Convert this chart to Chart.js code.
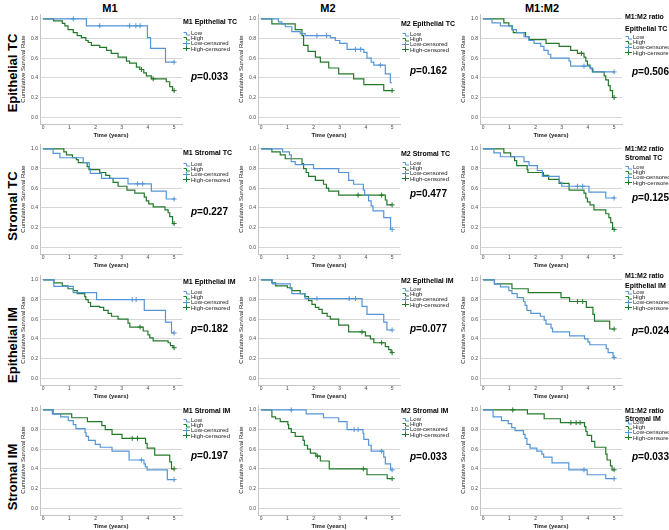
<!DOCTYPE html>
<html><head><meta charset="utf-8">
<script src="https://cdn.jsdelivr.net/npm/chart.js@4.4.1/dist/chart.umd.min.js"></script>
<style>
body{margin:0;width:669px;height:530px;background:#fff;position:relative;overflow:hidden;font-family:'Liberation Sans',Arial,sans-serif;}
canvas{position:absolute;}
.t{position:absolute;white-space:nowrap;color:#000;line-height:1;}
.ttl{font-size:7px;font-weight:bold;transform:translateY(-50%);}
.pv{font-size:10px;font-weight:bold;transform:translateY(-50%);}
.col{font-size:11px;font-weight:bold;transform:translate(-50%,-50%);}
.row{font-size:13px;font-weight:bold;transform:translate(-50%,-50%) rotate(-90deg);}
.lg{font-size:6px;color:#222;transform:translateY(-50%);display:flex;align-items:center;}
.lg svg{margin-right:1px;}
</style></head><body>
<script>
// ---------------- DATA ----------------
const colNames = ['M1', 'M2', 'M1:M2'];
const rowNames = ['Epithelial TC', 'Stromal TC', 'Epithelial IM', 'Stromal IM'];
const legendLabels = ['Low', 'High', 'Low-censored', 'High-censored'];
const xTicks = [0, 1, 2, 3, 4, 5];
const yTicks = [0, 0.2, 0.4, 0.6, 0.8, 1.0];
const pValues = [
  ['0.033', '0.162', '0.506'],
  ['0.227', '0.477', '0.125'],
  ['0.182', '0.077', '0.024'],
  ['0.197', '0.033', '0.033']
];

// Row 1: Epithelial TC
const epiTC_M1_low = [[0,1],[1.65,0.93],[3.98,0.81],[4.1,0.70],[4.67,0.56],[5,0.56]];
const epiTC_M1_lowCens = [[1.15,1],[2.16,0.93],[3.3,0.93],[3.54,0.93],[3.7,0.93],[5,0.56]];
const epiTC_M1_high = [[0,1],[0.4,0.98],[0.73,0.955],[0.83,0.93],[0.95,0.89],[1.15,0.86],[1.3,0.83],[1.46,0.81],[1.63,0.78],[1.72,0.76],[1.84,0.73],[2.16,0.71],[2.42,0.68],[2.6,0.65],[2.86,0.61],[3.18,0.57],[3.3,0.55],[3.56,0.51],[3.69,0.485],[3.84,0.45],[3.94,0.42],[4.13,0.39],[4.7,0.36],[4.83,0.31],[4.94,0.27],[5,0.27]];
const epiTC_M1_highCens = [[3.75,0.485],[4.2,0.39],[5,0.27]];

const epiTC_M2_low = [[0,1],[0.66,0.97],[0.79,0.95],[0.92,0.92],[1.17,0.87],[1.49,0.85],[1.68,0.83],[2.64,0.81],[2.83,0.78],[3.0,0.75],[3.28,0.69],[3.92,0.66],[4.04,0.60],[4.2,0.56],[4.3,0.53],[4.74,0.44],[4.93,0.35],[5,0.35]];
const epiTC_M2_lowCens = [[2.13,0.83],[2.5,0.83],[3.6,0.69],[3.8,0.69],[4.55,0.53]];
const epiTC_M2_high = [[0,1],[0.41,0.95],[1.3,0.89],[1.56,0.83],[1.62,0.73],[1.79,0.67],[2.07,0.61],[2.26,0.56],[2.58,0.50],[2.96,0.44],[3.53,0.39],[3.92,0.33],[4.68,0.27],[5,0.27]];
const epiTC_M2_highCens = [[5,0.27]];

const epiTC_R_low = [[0,1],[0.34,0.96],[0.66,0.93],[1.1,0.89],[1.27,0.86],[1.56,0.82],[1.75,0.78],[1.94,0.75],[2.2,0.72],[2.32,0.68],[2.48,0.64],[2.58,0.60],[3.28,0.57],[3.34,0.52],[4.1,0.49],[4.2,0.46],[5,0.46]];
const epiTC_R_lowCens = [[3.85,0.52],[5,0.46]];
const epiTC_R_high = [[0,1],[0.79,0.96],[0.98,0.93],[1.11,0.89],[1.15,0.86],[1.62,0.82],[1.75,0.79],[2.4,0.75],[2.9,0.72],[3.34,0.68],[3.6,0.65],[3.85,0.61],[3.92,0.57],[3.98,0.53],[4.08,0.50],[4.17,0.46],[4.62,0.42],[4.68,0.38],[4.78,0.32],[4.85,0.27],[4.94,0.20],[5,0.20]];
const epiTC_R_highCens = [[3.75,0.65],[5,0.20]];

// Row 2: Stromal TC
const strTC_M1_low = [[0,1],[0.38,0.955],[0.64,0.91],[1.53,0.86],[1.76,0.80],[1.8,0.75],[2.23,0.70],[3.24,0.645],[4.13,0.57],[4.7,0.49],[5,0.49]];
const strTC_M1_lowCens = [[3.6,0.645],[3.8,0.645],[5,0.49]];
const strTC_M1_high = [[0,1],[0.79,0.97],[0.89,0.94],[1.12,0.91],[1.27,0.89],[1.34,0.86],[1.68,0.82],[1.75,0.79],[2.16,0.76],[2.39,0.73],[2.54,0.70],[2.67,0.66],[2.86,0.62],[3.2,0.58],[3.5,0.55],[3.86,0.51],[3.94,0.47],[4.03,0.44],[4.2,0.41],[4.65,0.38],[4.77,0.35],[4.83,0.31],[4.94,0.24],[5,0.24]];
const strTC_M1_highCens = [[5,0.24]];

const strTC_M2_low = [[0,1],[0.82,0.97],[1.08,0.94],[1.15,0.87],[1.3,0.84],[2.0,0.80],[2.96,0.76],[3.34,0.68],[3.53,0.64],[3.9,0.58],[3.95,0.53],[4.1,0.47],[4.2,0.42],[4.27,0.37],[4.68,0.30],[4.94,0.18],[5,0.18]];
const strTC_M2_lowCens = [[5,0.18]];
const strTC_M2_high = [[0,1],[0.41,0.97],[0.73,0.94],[0.92,0.90],[1.56,0.85],[1.62,0.80],[1.72,0.76],[1.81,0.72],[2.07,0.68],[2.38,0.64],[2.49,0.60],[2.58,0.57],[2.96,0.53],[4.74,0.48],[4.8,0.43],[5,0.43]];
const strTC_M2_highCens = [[3.7,0.53],[4.6,0.53],[5,0.43]];

const strTC_R_low = [[0,1],[0.41,0.96],[0.66,0.92],[1.56,0.87],[1.75,0.83],[2.07,0.78],[2.26,0.72],[2.9,0.66],[3.0,0.62],[4.04,0.56],[4.68,0.50],[5,0.50]];
const strTC_R_lowCens = [[3.6,0.62],[3.8,0.62],[5,0.50]];
const strTC_R_high = [[0,1],[0.79,0.96],[1.05,0.92],[1.2,0.88],[1.28,0.83],[1.68,0.79],[1.71,0.76],[2.3,0.73],[2.5,0.69],[2.9,0.65],[3.28,0.58],[3.85,0.55],[3.92,0.50],[3.98,0.46],[4.08,0.43],[4.23,0.38],[4.68,0.34],[4.8,0.30],[4.87,0.25],[4.94,0.18],[5,0.18]];
const strTC_R_highCens = [[5,0.18]];

// Row 3: Epithelial IM
const epiIM_M1_low = [[0,1],[0.41,0.935],[1.15,0.87],[2.04,0.80],[3.86,0.69],[4.67,0.57],[4.9,0.46],[5,0.46]];
const epiIM_M1_lowCens = [[3.4,0.80],[3.55,0.80],[5,0.46]];
const epiIM_M1_high = [[0,1],[0.41,0.97],[0.73,0.94],[0.95,0.91],[1.15,0.89],[1.3,0.86],[1.59,0.83],[1.63,0.80],[1.72,0.77],[1.81,0.73],[2.16,0.72],[2.31,0.69],[2.48,0.66],[2.61,0.63],[2.86,0.60],[3.24,0.56],[3.31,0.52],[3.82,0.48],[4.0,0.44],[4.07,0.41],[4.2,0.38],[4.77,0.36],[4.86,0.33],[4.96,0.31],[5,0.31]];
const epiIM_M1_highCens = [[3.7,0.52],[5,0.31]];

const epiIM_M2_low = [[0,1],[0.43,0.96],[1.11,0.91],[1.17,0.86],[1.68,0.81],[3.85,0.73],[4.04,0.65],[4.68,0.57],[4.8,0.49],[5,0.49]];
const epiIM_M2_lowCens = [[2.13,0.81],[3.36,0.81],[3.6,0.81],[5,0.49]];
const epiIM_M2_high = [[0,1],[0.41,0.97],[0.55,0.94],[1.0,0.92],[1.17,0.89],[1.49,0.86],[1.66,0.83],[1.81,0.79],[1.94,0.75],[2.07,0.72],[2.2,0.70],[2.33,0.66],[2.52,0.63],[2.64,0.60],[2.96,0.54],[3.34,0.47],[3.98,0.43],[4.17,0.40],[4.3,0.36],[4.74,0.32],[4.87,0.29],[4.96,0.26],[5,0.26]];
const epiIM_M2_highCens = [[3.85,0.47],[4.6,0.36],[5,0.26]];

const epiIM_R_low = [[0,1],[0.43,0.96],[0.66,0.93],[0.98,0.89],[1.1,0.86],[1.3,0.82],[1.54,0.78],[1.6,0.74],[1.67,0.69],[1.82,0.66],[2.18,0.63],[2.33,0.59],[2.4,0.55],[2.59,0.51],[2.65,0.47],[3.3,0.43],[3.87,0.40],[4.0,0.37],[4.07,0.34],[4.7,0.30],[4.77,0.26],[4.96,0.21],[5,0.21]];
const epiIM_R_lowCens = [[5,0.21]];
const epiIM_R_high = [[0,1],[0.43,0.96],[1.1,0.91],[1.72,0.87],[2.97,0.82],[3.3,0.78],[3.94,0.72],[4.19,0.65],[4.25,0.58],[4.83,0.50],[5,0.50]];
const epiIM_R_highCens = [[3.6,0.78],[3.8,0.78],[5,0.50]];

// Row 4: Stromal IM
const strIM_M1_low = [[0,1],[0.35,0.96],[0.67,0.93],[0.96,0.89],[1.15,0.85],[1.25,0.81],[1.6,0.77],[1.64,0.73],[1.73,0.69],[1.99,0.65],[2.18,0.62],[2.63,0.58],[3.28,0.49],[3.85,0.45],[3.9,0.42],[3.97,0.39],[4.74,0.29],[5,0.29]];
const strIM_M1_lowCens = [[3.75,0.49],[5,0.29]];
const strIM_M1_high = [[0,1],[0.38,0.96],[1.09,0.92],[1.69,0.88],[2.24,0.84],[2.37,0.80],[2.63,0.75],[3.01,0.71],[3.91,0.66],[3.97,0.61],[4.26,0.54],[4.83,0.47],[4.9,0.40],[5,0.40]];
const strIM_M1_highCens = [[3.4,0.71],[3.6,0.71],[5,0.40]];

const strIM_M2_low = [[0,1],[1.72,0.96],[2.38,0.92],[2.96,0.88],[3.28,0.80],[3.89,0.76],[3.92,0.70],[4.1,0.64],[4.2,0.58],[4.68,0.52],[4.74,0.45],[4.94,0.39],[5,0.39]];
const strIM_M2_lowCens = [[1.15,1],[3.55,0.80],[3.7,0.80],[4.6,0.58],[5,0.39]];
const strIM_M2_high = [[0,1],[0.41,0.93],[0.55,0.91],[0.73,0.88],[1.02,0.85],[1.05,0.81],[1.15,0.77],[1.3,0.73],[1.6,0.69],[1.65,0.64],[1.77,0.60],[1.88,0.56],[2.09,0.53],[2.26,0.48],[2.6,0.40],[4.04,0.34],[4.81,0.30],[5,0.30]];
const strIM_M2_highCens = [[2.15,0.53],[3.9,0.40],[5,0.30]];

const strIM_R_low = [[0,1],[0.38,0.93],[0.7,0.89],[0.96,0.86],[1.09,0.82],[1.22,0.79],[1.54,0.75],[1.6,0.71],[1.67,0.65],[1.79,0.61],[2.05,0.58],[2.24,0.55],[2.31,0.52],[2.63,0.46],[3.27,0.39],[3.97,0.34],[4.68,0.30],[5,0.30]];
const strIM_R_lowCens = [[3.85,0.39],[5,0.30]];
const strIM_R_high = [[0,1],[1.69,0.96],[2.33,0.91],[2.95,0.87],[3.87,0.83],[3.92,0.78],[3.97,0.74],[4.14,0.68],[4.26,0.62],[4.68,0.55],[4.73,0.49],[4.86,0.43],[4.92,0.39],[5,0.39]];
const strIM_R_highCens = [[1.13,1],[3.35,0.87],[3.55,0.87],[3.7,0.87],[5,0.39]];

const panels = [
  [[epiTC_M1_low,epiTC_M1_high,epiTC_M1_lowCens,epiTC_M1_highCens],[epiTC_M2_low,epiTC_M2_high,epiTC_M2_lowCens,epiTC_M2_highCens],[epiTC_R_low,epiTC_R_high,epiTC_R_lowCens,epiTC_R_highCens]],
  [[strTC_M1_low,strTC_M1_high,strTC_M1_lowCens,strTC_M1_highCens],[strTC_M2_low,strTC_M2_high,strTC_M2_lowCens,strTC_M2_highCens],[strTC_R_low,strTC_R_high,strTC_R_lowCens,strTC_R_highCens]],
  [[epiIM_M1_low,epiIM_M1_high,epiIM_M1_lowCens,epiIM_M1_highCens],[epiIM_M2_low,epiIM_M2_high,epiIM_M2_lowCens,epiIM_M2_highCens],[epiIM_R_low,epiIM_R_high,epiIM_R_lowCens,epiIM_R_highCens]],
  [[strIM_M1_low,strIM_M1_high,strIM_M1_lowCens,strIM_M1_highCens],[strIM_M2_low,strIM_M2_high,strIM_M2_lowCens,strIM_M2_highCens],[strIM_R_low,strIM_R_high,strIM_R_lowCens,strIM_R_highCens]]
];

// ---------------- LAYOUT / STYLE ----------------
const BLUE = '#5495d8', GREEN = '#23792a', GRID = '#d6d6d6', AXIS = '#c4c4c4';
const FONT = "'Liberation Sans', Arial, sans-serif";
const ROW_G1 = [19, 149, 280, 410];       // y pixel of the 1.0 gridline
const COL_LEFT = [40, 258, 480];          // chart-area left
const YW = 24, PT = 4, XH = 20, CW = 142, CH = 110;
const TITLE_X = [183, 401, 625];
const TITLE_Y = [[21,23,[16,28]],[152,153,[148,157]],[281,280,[275,285]],[410,410,[410,418]]];
const LEG_X = [183, 402, 625];
const LEG_Y = [[33,34,37],[164,163,167],[292,289,292],[420,419,422]];
const P_X = [191, 410, 632];
const P_Y = [[77,71,72],[212,194,198],[329,329,331],[456,457,457]];
const ROW_LABEL_Y = [73, 206, 345, 477];
const COL_TITLE_X = [110, 328, 542];

function addText(cls, html, x, y) {
  const d = document.createElement('div');
  d.className = 't ' + cls;
  d.innerHTML = html;
  d.style.left = x + 'px';
  d.style.top = y + 'px';
  document.body.appendChild(d);
  return d;
}
const toXY = a => a.map(([x, y]) => ({x, y}));

function icon(kind, color) {
  const p = kind === 'step' ? 'M0.5 1.5 H3.5 V4 H7' : 'M0 2.5 H7 M3.5 0 V5';
  return `<svg width="7" height="5" viewBox="0 0 7 5"><path d="${p}" stroke="${color}" stroke-width="1" fill="none"/></svg>`;
}

function makeConfig(low, high, lowC, highC) {
  return {
    type: 'line',
    data: { datasets: [
      {data: toXY(low), borderColor: BLUE, borderWidth: 1.2, stepped: true, pointRadius: 0, fill: false},
      {data: toXY(high), borderColor: GREEN, borderWidth: 1.2, stepped: true, pointRadius: 0, fill: false},
      {data: toXY(lowC), showLine: false, pointStyle: 'cross', pointRadius: 2.5, borderColor: BLUE, pointBorderWidth: 1},
      {data: toXY(highC), showLine: false, pointStyle: 'cross', pointRadius: 2.5, borderColor: GREEN, pointBorderWidth: 1}
    ]},
    options: {
      responsive: false, maintainAspectRatio: false, animation: false, devicePixelRatio: 1,
      layout: {padding: {top: PT, left: 0, right: 0, bottom: 0}},
      plugins: {legend: {display: false}, tooltip: {enabled: false}},
      scales: {
        x: {
          type: 'linear', min: -0.12, max: 5.3,
          afterBuildTicks: s => { s.ticks = xTicks.map(v => ({value: v})); },
          afterFit: s => { s.height = XH; },
          grid: {display: false, drawTicks: false},
          border: {display: true, color: AXIS},
          ticks: {font: {size: 5, family: FONT}, color: '#444', padding: 1, maxRotation: 0, callback: v => String(v)},
          title: {display: true, text: 'Time (years)', font: {size: 6, weight: 'bold', family: FONT}, color: '#222', padding: {top: 0, bottom: 5}}
        },
        y: {
          min: -0.07, max: 1.05,
          afterBuildTicks: s => { s.ticks = yTicks.map(v => ({value: v})); },
          afterFit: s => { s.width = YW; },
          grid: {color: GRID, drawTicks: false, lineWidth: 1},
          border: {display: true, color: AXIS},
          ticks: {font: {size: 5, family: FONT}, color: '#444', padding: 2, callback: v => v.toFixed(1)},
          title: {display: true, text: 'Cumulative Survival Rate', font: {size: 6, family: FONT}, color: '#222', padding: {top: 4, bottom: 0}}
        }
      }
    }
  };
}

colNames.forEach((n, c) => addText('col', n, COL_TITLE_X[c], 8));
rowNames.forEach((n, r) => addText('row', n, 12, ROW_LABEL_Y[r]));

for (let r = 0; r < 4; r++) {
  for (let c = 0; c < 3; c++) {
    const [low, high, lowC, highC] = panels[r][c];
    const cv = document.createElement('canvas');
    document.body.appendChild(cv);
    const chartLeft = COL_LEFT[c], chartTop = ROW_G1[r] - 5;
    let w = YW + CW, h = PT + CH + XH, ch = null;
    // build, then correct canvas size so the plot area has exactly CW x CH
    for (let k = 0; k < 4; k++) {
      cv.width = w; cv.height = h;
      cv.style.width = w + 'px'; cv.style.height = h + 'px';
      ch = new Chart(cv, makeConfig(low, high, lowC, highC));
      const a = ch.chartArea;
      const dw = CW - (a.right - a.left), dh = CH - (a.bottom - a.top);
      if ((Math.abs(dw) < 0.5 && Math.abs(dh) < 0.5) || k === 3) break;
      ch.destroy();
      w = Math.round(w + dw); h = Math.round(h + dh);
    }
    const a = ch.chartArea;
    cv.style.left = (chartLeft - a.left) + 'px';
    cv.style.top = (chartTop - a.top) + 'px';

    // panel title
    const tY = TITLE_Y[r][c];
    if (c < 2) {
      addText('ttl', colNames[c] + ' ' + rowNames[r], TITLE_X[c], tY);
    } else {
      addText('ttl', 'M1:M2 ratio', TITLE_X[c], tY[0]);
      addText('ttl', rowNames[r], TITLE_X[c], tY[1]);
    }
    // legend
    const kinds = ['step', 'step', 'cross', 'cross'];
    const cols = [BLUE, GREEN, BLUE, GREEN];
    legendLabels.forEach((lab, i) => {
      addText('lg', icon(kinds[i], cols[i]) + lab, LEG_X[c], LEG_Y[r][c] + i * 5.2);
    });
    // p value
    addText('pv', '<i>p</i>=' + pValues[r][c], P_X[c], P_Y[r][c]);
  }
}
</script>
</body></html>
